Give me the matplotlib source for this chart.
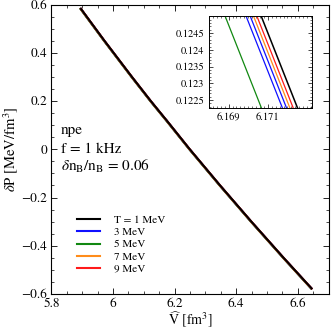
import matplotlib
matplotlib.use("Agg")
import matplotlib.pyplot as plt
from matplotlib.ticker import MultipleLocator, FixedLocator, FixedFormatter

plt.rcParams['font.family'] = ['STIXGeneral', 'DejaVu Serif']
plt.rcParams['mathtext.fontset'] = 'stix'

# pressure perturbation grid [MeV/fm^3]
P = [0.582, 0.45, 0.30, 0.20, 0.1255, 0.1220, 0.0, -0.15, -0.30, -0.45, -0.577]

# volume values [fm^3] for each temperature
V_T1 = [5.8960, 5.9721, 6.0615, 6.1227, 6.17033, 6.17269, 6.2493, 6.3478, 6.4494, 6.5540, 6.6449]
V_T3 = [5.8952, 5.9713, 6.0607, 6.1219, 6.16956, 6.17192, 6.2485, 6.3470, 6.4486, 6.5532, 6.6441]
V_T3b = [5.8954, 5.9715, 6.0609, 6.1221, 6.16977, 6.17213, 6.2487, 6.3472, 6.4488, 6.5534, 6.6443]
V_T5 = [5.8942, 5.9703, 6.0597, 6.1209, 6.16849, 6.17085, 6.2475, 6.3460, 6.4476, 6.5522, 6.6431]
V_T7 = [5.8956, 5.9717, 6.0611, 6.1223, 6.16994, 6.17230, 6.2489, 6.3474, 6.4490, 6.5536, 6.6445]
V_T9 = [5.8958, 5.9719, 6.0613, 6.1225, 6.17011, 6.17247, 6.2491, 6.3476, 6.4492, 6.5538, 6.6447]

labels = ["T = 1 MeV", "3 MeV", "5 MeV", "7 MeV", "9 MeV"]
colors = ["black", "#1010ff", "#118811", "#ff8c1a", "#ff1a1a"]

x_ticks = [5.8, 6.0, 6.2, 6.4, 6.6]
x_ticklabels = ["5.8", "6", "6.2", "6.4", "6.6"]
y_ticks = [-0.6, -0.4, -0.2, 0.0, 0.2, 0.4, 0.6]
y_ticklabels = ["\u22120.6", "\u22120.4", "\u22120.2", "0", "0.2", "0.4", "0.6"]
ins_x_ticks = [6.169, 6.171]
ins_x_ticklabels = ["6.169", "6.171"]
ins_y_ticks = [0.1225, 0.123, 0.1235, 0.124, 0.1245]
ins_y_ticklabels = ["0.1225", "0.123", "0.1235", "0.124", "0.1245"]

series = [V_T1, V_T3, V_T5, V_T7, V_T9]

fig = plt.figure(figsize=(3.32, 3.32), dpi=100)
ax = fig.add_axes([0.155, 0.1145, 0.8346, 0.8717])

order = [1, 2, 3, 4, 0]
ax.plot(V_T3b, P, color=colors[1], lw=1.5, zorder=2)
for i in order:
    ax.plot(series[i], P, color=colors[i], lw=1.5, label=labels[i], zorder=3 + (i == 0))

ax.set_xlim(5.8, 6.7)
ax.set_ylim(-0.6, 0.6)
ax.xaxis.set_major_locator(FixedLocator(x_ticks))
ax.xaxis.set_major_formatter(FixedFormatter(x_ticklabels))
ax.yaxis.set_major_locator(FixedLocator(y_ticks))
ax.yaxis.set_major_formatter(FixedFormatter(y_ticklabels))
ax.xaxis.set_minor_locator(MultipleLocator(0.05))
ax.yaxis.set_minor_locator(MultipleLocator(0.05))
ax.tick_params(which='both', direction='in', top=True, right=True, labelsize=9.5)
ax.tick_params(which='major', length=4, width=0.6, pad=3)
ax.tick_params(which='minor', length=2, width=0.5)
for s in ax.spines.values():
    s.set_linewidth(0.8)

ax.set_xlabel(r"$\widehat{\mathrm{V}}$ [fm$^3$]", fontsize=10, labelpad=0)
ax.set_ylabel(r"$\delta$P [MeV/fm$^3$]", fontsize=10.5, labelpad=1)

ax.text(0.035, 0.552, "npe", transform=ax.transAxes, fontsize=11)
ax.text(0.035, 0.487, "f = 1 kHz", transform=ax.transAxes, fontsize=11)
ax.text(0.035, 0.425, r"$\delta\mathrm{n_B/n_B}$ = 0.06", transform=ax.transAxes, fontsize=11)

handles, labs = ax.get_legend_handles_labels()
hmap = dict(zip(labs, handles))
leg = ax.legend([hmap[l] for l in labels], labels, loc='lower left',
                bbox_to_anchor=(0.055, 0.035), frameon=False, fontsize=8,
                handlelength=2.1, handletextpad=1.3, labelspacing=0.22)

ins = fig.add_axes([0.6295, 0.6756, 0.309, 0.276])
ins.plot(V_T5, P, color=colors[2], lw=0.9)
ins.plot(V_T3, P, color=colors[1], lw=0.9)
ins.plot(V_T3b, P, color=colors[1], lw=0.9)
ins.plot(V_T7, P, color=colors[3], lw=0.9)
ins.plot(V_T9, P, color=colors[4], lw=0.9)
ins.plot(V_T1, P, color=colors[0], lw=1.1)
ins.set_xlim(6.168, 6.17323)
ins.set_ylim(0.12227, 0.12501)
ins.xaxis.set_major_locator(FixedLocator(ins_x_ticks))
ins.xaxis.set_major_formatter(FixedFormatter(ins_x_ticklabels))
ins.yaxis.set_major_locator(FixedLocator(ins_y_ticks))
ins.yaxis.set_major_formatter(FixedFormatter(ins_y_ticklabels))
ins.xaxis.set_minor_locator(MultipleLocator(0.0002))
ins.yaxis.set_minor_locator(MultipleLocator(0.0001))
ins.tick_params(which='both', direction='in', top=True, right=True, labelsize=7.5)
ins.tick_params(which='major', length=3, width=0.5)
ins.tick_params(which='minor', length=1.5, width=0.4)
for s in ins.spines.values():
    s.set_linewidth(0.7)

fig.savefig("out.png", dpi=100)
